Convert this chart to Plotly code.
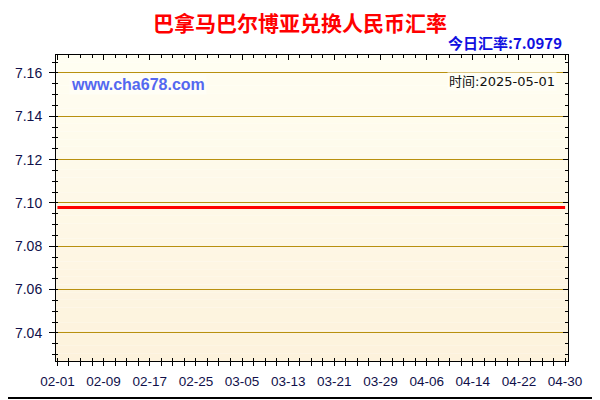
import plotly.graph_objects as go

# data
dates = ["2025-02-01", "2025-02-09", "2025-02-17", "2025-02-25", "2025-03-05", "2025-03-13",
         "2025-03-21", "2025-03-29", "2025-04-06", "2025-04-14", "2025-04-22", "2025-04-30"]
rates = [7.0979, 7.0979, 7.0979, 7.0979, 7.0979, 7.0979,
         7.0979, 7.0979, 7.0979, 7.0979, 7.0979, 7.0979]
today_rate = "7.0979"
today_date = "2025-05-01"
title_text = "巴拿马巴尔博亚兑换人民币汇率"

X_RANGE = ["2025-01-31 18:00", "2025-04-30 12:00"]
Y_RANGE = [7.027, 7.1683]
DAY = 86400000
CJK = "Noto Sans CJK SC"

# the page puts the figure 8px in from the corner, so the figure is 592x392
W, H = 592, 392
L, T, PW, PH = 48, 47, 512, 306

fig = go.Figure()

# main series
fig.add_trace(go.Scatter(x=dates, y=rates, mode="lines",
                         line=dict(color="#FF0000", width=3), hoverinfo="x+y"))

# invisible helpers so the extra tick axes get drawn
for xa, ya in [("x2", "y2"), ("x3", "y3")]:
    fig.add_trace(go.Scatter(x=dates, y=rates, xaxis=xa, yaxis=ya, mode="lines",
                             line=dict(width=0), opacity=0, hoverinfo="skip", showlegend=False))

# gradient plot background made of thin bands
n = 40
top = (255, 254, 242)
bot = (253, 242, 220)
shapes = []
for i in range(n):
    t = i / (n - 1)
    c = tuple(round(top[k] + (bot[k] - top[k]) * t) for k in range(3))
    shapes.append(dict(type="rect", xref="x domain", yref="y domain",
                       x0=0, x1=1, y0=1 - (i + 1) / n, y1=1 - i / n,
                       fillcolor="rgb(%d,%d,%d)" % c, line=dict(width=0), layer="below"))
# outer frame (only right and bottom edges fall inside the figure)
shapes.append(dict(type="rect", xref="paper", yref="paper",
                   x0=(-20 - L) / PW, x1=(589 - L) / PW,
                   y0=-(390 - (T + PH)) / PH, y1=(T + PH + 20) / PH,
                   line=dict(color="black", width=2)))

axis_common = dict(showgrid=False, zeroline=False, showline=True, linecolor="black",
                   linewidth=1, tickcolor="black", automargin=False)

fig.update_layout(
    width=W, height=H,
    margin=dict(l=L, r=W - L - PW, t=T, b=H - T - PH, autoexpand=False),
    paper_bgcolor="white",
    plot_bgcolor="rgba(0,0,0,0)",
    showlegend=False,
    shapes=shapes,
    xaxis=dict(axis_common, type="date", range=X_RANGE, tick0="2025-02-01", dtick=8 * DAY,
               tickformat="%m-%d", ticks="outside", ticklen=4, ticklabelstandoff=4,
               tickfont=dict(family="Arial, Liberation Sans", size=13.5, color="#10104a"),
               minor=dict(ticks="outside", ticklen=4, dtick=2 * DAY, tick0="2025-02-01",
                          tickcolor="black")),
    yaxis=dict(axis_common, range=Y_RANGE, tick0=7.0, dtick=0.02, tickformat=".2f",
               ticks="outside", ticklen=6, ticklabelstandoff=4,
               tickfont=dict(family="Arial, Liberation Sans", size=14, color="#10104a"),
               showgrid=True, gridcolor="#B8900F", gridwidth=1,
               minor=dict(ticks="outside", ticklen=3, dtick=0.005, tick0=7.0,
                          tickcolor="black", showgrid=False)),
    # top / right inward ticks
    xaxis2=dict(axis_common, type="date", range=X_RANGE, overlaying="x", anchor="y2", side="top",
                tick0="2025-02-01", dtick=8 * DAY, ticks="inside", ticklen=5, showticklabels=False,
                minor=dict(ticks="inside", ticklen=3, dtick=2 * DAY, tick0="2025-02-01",
                           tickcolor="black")),
    yaxis2=dict(axis_common, range=Y_RANGE, overlaying="y", anchor="x2", side="right",
                tick0=7.0, dtick=0.02, ticks="inside", ticklen=5, showticklabels=False,
                minor=dict(ticks="inside", ticklen=3, dtick=0.005, tick0=7.0, tickcolor="black")),
    # inner half of the crossing ticks on bottom / left
    xaxis3=dict(axis_common, type="date", range=X_RANGE, overlaying="x", anchor="y3", side="bottom",
                tick0="2025-02-01", dtick=8 * DAY, ticks="inside", ticklen=3, showticklabels=False,
                minor=dict(ticks="inside", ticklen=3, dtick=2 * DAY, tick0="2025-02-01",
                           tickcolor="black")),
    yaxis3=dict(axis_common, range=Y_RANGE, overlaying="y", anchor="x3", side="left",
                tick0=7.0, dtick=0.02, ticks="inside", ticklen=2, showticklabels=False,
                minor=dict(ticks="inside", ticklen=2, dtick=0.005, tick0=7.0, tickcolor="black")),
)

# title as an annotation, centred at page x=300, y=22
fig.add_annotation(text="<b>" + title_text + "</b>", xref="paper", yref="paper",
                   x=(300 - 8 - L) / PW, y=(T + PH - (22 - 8)) / PH, xanchor="center", yanchor="middle",
                   showarrow=False, font=dict(family=CJK, size=21, color="#FF0000"))
fig.add_annotation(text="<b>今日汇率:" + today_rate + "</b>", xref="paper", yref="paper",
                   x=(564 - 8 - L) / PW, y=(T + PH - (43 - 8)) / PH, xanchor="right", yanchor="middle",
                   showarrow=False, font=dict(family=CJK, size=15, color="#1010E0"))
fig.add_annotation(text="<b>www.cha678.com</b>", xref="paper", yref="paper",
                   x=(69 - 8 - L) / PW, y=(T + PH - (84 - 8)) / PH, xanchor="left", yanchor="middle",
                   showarrow=False, bgcolor="#FFFEF6",
                   font=dict(family="Arial, Liberation Sans", size=16, color="#5468F0"))
fig.add_annotation(text="时间:" + today_date, xref="paper", yref="paper",
                   x=(557 - 8 - L) / PW, y=(T + PH - (81 - 8)) / PH, xanchor="right", yanchor="middle",
                   showarrow=False, bgcolor="#FFFEF6",
                   font=dict(family="DejaVu Sans, " + CJK, size=13, color="#101010"))

fig.write_html("out.html")
